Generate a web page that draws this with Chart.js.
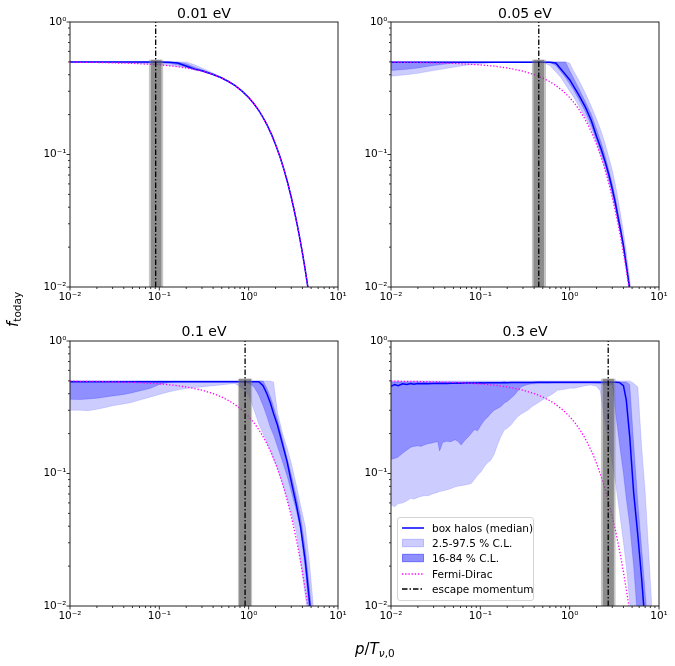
<!DOCTYPE html>
<html>
<head>
<meta charset="utf-8">
<script src="https://cdn.jsdelivr.net/npm/chart.js@4.4.1/dist/chart.umd.min.js"></script>
<style>
html,body{margin:0;padding:0;background:#fff;}
#fig{position:relative;width:675px;height:666px;overflow:hidden;font-family:"DejaVu Sans",sans-serif;color:#000;}
canvas{position:absolute;}
.ttl{position:absolute;width:268px;text-align:center;font-size:14px;line-height:16px;white-space:nowrap;z-index:2;}
#ylab{position:absolute;left:5px;top:327px;transform-origin:0 0;transform:rotate(-90deg);font-size:15px;line-height:17px;white-space:nowrap;}
#xlab{position:absolute;left:355px;top:641px;font-size:15px;line-height:17px;white-space:nowrap;}
.it{font-style:italic;}
sub{font-size:70%;vertical-align:-0.3em;line-height:0;}
#leg{position:absolute;left:397px;top:517px;width:137px;height:84px;border:1px solid #d4d4d4;border-radius:3px;background:rgba(255,255,255,0.8);box-sizing:border-box;z-index:3;}
.row{position:absolute;left:0;height:14px;line-height:14px;font-size:10.5px;white-space:nowrap;}
.row svg{position:absolute;left:4px;top:0;}
.row span{position:absolute;left:34px;top:0;}
</style>
</head>
<body>
<div id="fig">
  <canvas id="c0" width="330" height="297" style="left:20px;top:14px"></canvas>
  <canvas id="c1" width="330" height="297" style="left:341px;top:14px"></canvas>
  <canvas id="c2" width="330" height="297" style="left:20px;top:333px"></canvas>
  <canvas id="c3" width="330" height="297" style="left:341px;top:333px"></canvas>
  <div class="ttl" id="t0" style="left:70px;top:5px"></div>
  <div class="ttl" id="t1" style="left:391px;top:5px"></div>
  <div class="ttl" id="t2" style="left:70px;top:323px"></div>
  <div class="ttl" id="t3" style="left:391px;top:323px"></div>
  <div id="ylab"><span class="it">f</span><sub>today</sub></div>
  <div id="xlab"><span class="it">p</span>/<span class="it">T</span><sub><span class="it">ν</span>,0</sub></div>
  <div id="leg">
    <div class="row" style="top:3px"><svg width="22" height="14"><line x1="0" y1="7" x2="22" y2="7" stroke="#0000ff" stroke-width="1.5"/></svg><span>box halos (median)</span></div>
    <div class="row" style="top:18px"><svg width="22" height="14"><rect x="0.5" y="3.3" width="21" height="7.4" fill="rgba(0,0,255,0.2)" stroke="rgba(0,0,255,0.2)" stroke-width="1"/></svg><span>2.5-97.5 % C.L.</span></div>
    <div class="row" style="top:33px"><svg width="22" height="14"><rect x="0.5" y="3.3" width="21" height="7.4" fill="rgba(0,0,255,0.44)" stroke="rgba(0,0,255,0.44)" stroke-width="1"/></svg><span>16-84 % C.L.</span></div>
    <div class="row" style="top:48.7px"><svg width="22" height="14"><line x1="0" y1="7" x2="22" y2="7" stroke="#ff00ff" stroke-width="1.3" stroke-dasharray="1.3 1.9"/></svg><span>Fermi-Dirac</span></div>
    <div class="row" style="top:64px"><svg width="22" height="14"><line x1="0" y1="7" x2="22" y2="7" stroke="#000" stroke-width="1.3" stroke-dasharray="5.5 2 1.5 2"/></svg><span>escape momentum</span></div>
  </div>
</div>
<script>
// ---------- axes ----------
const xTickVals = [0.01, 0.1, 1, 10];
const xTickLabels = ['10⁻²', '10⁻¹', '10⁰', '10¹'];
const yTickVals = [0.01, 0.1, 1];
const yTickLabels = ['10⁻²', '10⁻¹', '10⁰'];
const panelTitles = ['0.01 eV', '0.05 eV', '0.1 eV', '0.3 eV'];

// ---------- escape momentum (per panel) ----------
const escP    = [0.091, 0.451, 0.912, 2.70];
const esc68Lo = [0.080, 0.392, 0.780, 2.34];
const esc68Hi = [0.106, 0.516, 1.060, 3.13];
const esc95Lo = [0.076, 0.376, 0.755, 2.23];
const esc95Hi = [0.111, 0.545, 1.100, 3.28];
const escTop = 0.52;

// ---------- Fermi-Dirac ----------
const pFD = [0.01,0.02,0.05,0.1,0.15,0.2,0.3,0.4,0.5,0.6,0.7,0.85,1,1.15,1.3,1.45,1.6,1.8,2,2.25,2.5,2.75,3,3.25,3.5,3.75,4,4.25,4.5,4.75,5,5.5];
const fFD = [0.4975,0.495,0.4875,0.475,0.4626,0.4502,0.4256,0.4013,0.3775,0.3543,0.3318,0.2994,0.2689,0.2405,0.2142,0.19,0.168,0.1419,0.1192,0.0953,0.0759,0.0601,0.0474,0.0373,0.0293,0.023,0.018,0.0141,0.011,0.0086,0.0067,0.0041];

// ---------- 0.01 eV ----------
const p1    = [0.01,0.03,0.06,0.1,0.13,0.16,0.2,0.25,0.3,0.4,0.5,0.6,0.7,0.85,1,1.15,1.3,1.45,1.6,1.8,2,2.25,2.5,2.75,3,3.25,3.5,3.75,4,4.25,4.5,4.75,5,5.5];
const med1  = [0.5,0.5,0.5,0.5,0.497,0.49,0.465,0.44,0.428,0.402,0.378,0.354,0.332,0.2994,0.2689,0.2405,0.2142,0.19,0.168,0.1419,0.1192,0.0953,0.0759,0.0601,0.0474,0.0373,0.0293,0.023,0.018,0.0141,0.011,0.0086,0.0067,0.0041];
const lo95_1= [0.498,0.494,0.486,0.476,0.468,0.461,0.451,0.438,0.426,0.401,0.377,0.353,0.331,0.2985,0.268,0.2398,0.2136,0.1895,0.1675,0.1415,0.1189,0.095,0.0757,0.06,0.0473,0.0372,0.0292,0.0229,0.018,0.0141,0.011,0.0086,0.0067,0.0041];
const hi95_1= [0.5,0.5,0.5,0.5,0.5,0.5,0.5,0.475,0.45,0.412,0.383,0.358,0.334,0.301,0.271,0.2422,0.2155,0.191,0.169,0.1426,0.1198,0.0957,0.0762,0.0603,0.0476,0.0375,0.0294,0.0231,0.0181,0.0142,0.0111,0.0087,0.0068,0.0042];
const lo68_1= [0.5,0.499,0.497,0.493,0.487,0.475,0.455,0.439,0.427,0.402,0.378,0.354,0.332,0.2994,0.2689,0.2405,0.2142,0.19,0.168,0.1419,0.1192,0.0953,0.0759,0.0601,0.0474,0.0373,0.0293,0.023,0.018,0.0141,0.011,0.0086,0.0067,0.0041];
const hi68_1= [0.5,0.5,0.5,0.5,0.5,0.5,0.485,0.455,0.436,0.406,0.38,0.355,0.333,0.3,0.2695,0.241,0.2146,0.1903,0.1683,0.1421,0.1194,0.0954,0.076,0.0602,0.0475,0.0374,0.0293,0.023,0.018,0.0141,0.011,0.0086,0.0067,0.0041];

// ---------- 0.05 eV ----------
const p2    = [0.01,0.015,0.02,0.03,0.05,0.07,0.1,0.15,0.2,0.3,0.5,0.6,0.7,0.8,0.9,1.0,1.1,1.25,1.5,1.75,2,2.25,2.5,2.75,3,3.25,3.5,3.75,4,4.25,4.5,4.75,5];
const med2  = [0.497,0.497,0.497,0.497,0.497,0.497,0.497,0.497,0.497,0.497,0.497,0.497,0.49,0.44,0.40,0.367,0.33,0.285,0.228,0.18,0.137,0.11,0.088,0.07,0.055,0.043,0.033,0.026,0.0205,0.0155,0.0118,0.0092,0.0071];
const lo95_2= [0.39,0.40,0.41,0.43,0.455,0.472,0.485,0.494,0.497,0.497,0.495,0.47,0.42,0.38,0.335,0.30,0.273,0.235,0.19,0.155,0.122,0.097,0.077,0.061,0.048,0.038,0.030,0.0236,0.0185,0.0145,0.0112,0.0087,0.0068];
const hi95_2= [0.5,0.5,0.5,0.5,0.5,0.5,0.5,0.5,0.5,0.5,0.5,0.5,0.5,0.5,0.5,0.49,0.43,0.37,0.29,0.23,0.185,0.15,0.12,0.095,0.076,0.059,0.045,0.034,0.026,0.0195,0.0145,0.0108,0.008];
const lo68_2= [0.43,0.44,0.45,0.47,0.49,0.497,0.497,0.497,0.497,0.497,0.497,0.497,0.47,0.42,0.38,0.34,0.31,0.265,0.21,0.165,0.128,0.102,0.082,0.065,0.051,0.04,0.031,0.0245,0.0193,0.015,0.0115,0.0089,0.0069];
const hi68_2= [0.5,0.5,0.5,0.5,0.5,0.5,0.5,0.5,0.5,0.5,0.5,0.5,0.5,0.5,0.5,0.43,0.38,0.32,0.25,0.2,0.155,0.123,0.097,0.076,0.06,0.047,0.036,0.028,0.0215,0.0164,0.0125,0.0096,0.0074];

// ---------- 0.1 eV ----------
const p3    = [0.01,0.013,0.016,0.02,0.025,0.03,0.035,0.04,0.05,0.06,0.07,0.08,0.1,0.13,0.17,0.22,0.3,0.4,0.55,0.7,0.85,1.0,1.15,1.3,1.45,1.6,1.75,1.9,2.1,2.4,2.7,3.0,3.4,3.8,4.3,4.8,5.3,5.8];
const med3  = [0.493,0.493,0.493,0.493,0.493,0.493,0.493,0.493,0.493,0.493,0.493,0.493,0.493,0.493,0.493,0.493,0.493,0.493,0.493,0.493,0.493,0.493,0.493,0.493,0.46,0.40,0.34,0.283,0.232,0.165,0.122,0.087,0.059,0.04,0.022,0.0108,0.0058,0.003];
const lo95_3= [0.30,0.30,0.298,0.305,0.315,0.325,0.33,0.335,0.345,0.358,0.368,0.378,0.395,0.414,0.43,0.442,0.45,0.46,0.47,0.478,0.44,0.39,0.30,0.235,0.2,0.17,0.148,0.128,0.11,0.083,0.064,0.05,0.037,0.022,0.012,0.007,0.004,0.0025];
const hi95_3= [0.5,0.5,0.5,0.5,0.5,0.5,0.5,0.5,0.5,0.5,0.5,0.5,0.5,0.5,0.5,0.5,0.5,0.5,0.5,0.5,0.5,0.5,0.5,0.5,0.5,0.5,0.5,0.49,0.29,0.2,0.155,0.12,0.083,0.058,0.04,0.021,0.01,0.005];
const lo68_3= [0.363,0.362,0.365,0.37,0.378,0.385,0.39,0.395,0.407,0.42,0.43,0.44,0.47,0.488,0.493,0.493,0.493,0.493,0.493,0.493,0.49,0.48,0.45,0.39,0.325,0.27,0.222,0.195,0.16,0.122,0.095,0.073,0.053,0.038,0.019,0.0085,0.0045,0.0025];
const hi68_3= [0.5,0.5,0.5,0.5,0.5,0.5,0.5,0.5,0.5,0.5,0.5,0.5,0.5,0.5,0.5,0.5,0.5,0.5,0.5,0.5,0.5,0.5,0.5,0.5,0.5,0.44,0.38,0.32,0.255,0.18,0.13,0.098,0.068,0.048,0.027,0.0135,0.0068,0.0035];

// ---------- 0.3 eV ----------
const p4 = [0.01,0.011,0.012,0.0135,0.015,0.0167,0.018,0.02,0.0215,0.0236,
            0.026,0.029,0.031,0.0333,0.035,0.038,0.042,0.047,0.052,0.056,
            0.061,0.068,0.074,0.079,0.086,0.093,0.102,0.11,0.12,0.131,
            0.143,0.156,0.17,0.186,0.2,0.22,0.24,0.262,0.285,0.31,
            0.34,0.38,0.44,0.5,0.57,0.65,0.73,0.85,1.0,1.13,
            1.3,1.5,1.73,2.0,2.2,2.4,2.7,3.0,3.3,3.6,
            4.0,4.3,4.7,5.2,5.8,6.4,7.0,7.8,8.5];
const med4 = [0.455,0.47,0.46,0.475,0.47,0.478,0.472,0.477,0.475,0.478,
              0.476,0.478,0.477,0.479,0.478,0.48,0.478,0.48,0.479,0.481,
              0.48,0.482,0.481,0.482,0.483,0.482,0.484,0.483,0.484,0.485,
              0.484,0.485,0.485,0.486,0.485,0.486,0.486,0.487,0.486,0.487,
              0.487,0.487,0.488,0.488,0.488,0.488,0.488,0.488,0.488,0.488,
              0.488,0.488,0.488,0.488,0.488,0.488,0.488,0.488,0.488,0.487,
              0.46,0.36,0.19,0.072,0.034,0.016,0.0072,0.0035,0.002];
const lo95_4 = [0.058,0.056,0.059,0.06,0.062,0.065,0.064,0.066,0.067,0.068,
                0.068,0.07,0.071,0.072,0.073,0.074,0.075,0.077,0.079,0.08,
                0.081,0.082,0.083,0.084,0.09,0.097,0.103,0.112,0.12,0.126,
                0.14,0.165,0.19,0.213,0.22,0.232,0.25,0.268,0.28,0.29,
                0.30,0.32,0.34,0.36,0.38,0.40,0.425,0.43,0.44,0.44,
                0.45,0.46,0.465,0.455,0.42,0.28,0.18,0.12,0.08,0.052,
                0.03,0.02,0.0105,0.005,0.003,0.002,0.002,0.002,0.002];
const hi95_4 = [0.5,0.5,0.5,0.5,0.5,0.5,0.5,0.5,0.5,0.5,
                0.5,0.5,0.5,0.5,0.5,0.5,0.5,0.5,0.5,0.5,
                0.5,0.5,0.5,0.5,0.5,0.5,0.5,0.5,0.5,0.5,
                0.5,0.5,0.5,0.5,0.5,0.5,0.5,0.5,0.5,0.5,
                0.5,0.5,0.5,0.5,0.5,0.5,0.5,0.5,0.5,0.5,
                0.5,0.5,0.5,0.5,0.5,0.5,0.5,0.5,0.5,0.5,
                0.5,0.5,0.5,0.48,0.45,0.158,0.073,0.021,0.0076];
const lo68_4 = [0.128,0.13,0.133,0.142,0.15,0.158,0.16,0.162,0.16,0.164,
                0.168,0.17,0.172,0.174,0.148,0.172,0.175,0.174,0.18,0.175,
                0.164,0.18,0.19,0.2,0.215,0.21,0.232,0.25,0.265,0.284,
                0.3,0.31,0.32,0.34,0.35,0.37,0.39,0.42,0.45,0.46,
                0.47,0.475,0.477,0.478,0.478,0.479,0.479,0.48,0.48,0.48,
                0.48,0.48,0.48,0.478,0.475,0.472,0.47,0.47,0.27,0.17,
                0.1,0.065,0.041,0.02,0.0075,0.004,0.003,0.002,0.002];
const hi68_4 = [0.49,0.49,0.49,0.49,0.49,0.49,0.49,0.49,0.49,0.49,
                0.49,0.49,0.49,0.49,0.49,0.49,0.49,0.49,0.49,0.49,
                0.49,0.49,0.49,0.49,0.49,0.49,0.49,0.49,0.49,0.49,
                0.49,0.49,0.49,0.49,0.49,0.49,0.49,0.49,0.49,0.49,
                0.49,0.49,0.49,0.49,0.49,0.49,0.49,0.49,0.49,0.49,
                0.49,0.49,0.49,0.49,0.49,0.49,0.49,0.49,0.49,0.49,
                0.49,0.49,0.47,0.17,0.06,0.027,0.0125,0.0055,0.003];

const panels = [
  {p:p1, med:med1, lo95:lo95_1, hi95:hi95_1, lo68:lo68_1, hi68:hi68_1},
  {p:p2, med:med2, lo95:lo95_2, hi95:hi95_2, lo68:lo68_2, hi68:hi68_2},
  {p:p3, med:med3, lo95:lo95_3, hi95:hi95_3, lo68:lo68_3, hi68:hi68_3},
  {p:p4, med:med4, lo95:lo95_4, hi95:hi95_4, lo68:lo68_4, hi68:hi68_4}
];

const yMin = 0.01, yMax = 1, xMin = 0.01, xMax = 10;

function pts(xs, ys) { return xs.map((x, i) => ({x: x, y: ys[i]})); }
function labelFor(vals, labels, v) {
  const i = vals.findIndex(t => Math.abs(t - v) / t < 1e-6);
  return i >= 0 ? labels[i] : '';
}

const frameTicks = {
  id: 'frameTicks',
  afterDraw(chart) {
    const ctx = chart.ctx, a = chart.chartArea, xs = chart.scales.x, ys = chart.scales.y;
    ctx.save();
    ctx.strokeStyle = '#000';
    ctx.lineWidth = 0.8;
    ctx.beginPath();
    for (let d = -2; d <= 1; d++) {
      for (let k = 1; k <= 9; k++) {
        const v = k * Math.pow(10, d);
        if (v > xMax * 1.0001) break;
        const px = xs.getPixelForValue(v);
        const len = k === 1 ? 3.5 : 2;
        ctx.moveTo(px, a.bottom); ctx.lineTo(px, a.bottom + len);
      }
    }
    for (let d = -2; d <= 0; d++) {
      for (let k = 1; k <= 9; k++) {
        const v = k * Math.pow(10, d);
        if (v > yMax * 1.0001) break;
        const py = ys.getPixelForValue(v);
        const len = k === 1 ? 3.5 : 2;
        ctx.moveTo(a.left, py); ctx.lineTo(a.left - len, py);
      }
    }
    ctx.stroke();
    ctx.strokeStyle = '#222';
    ctx.lineWidth = 1;
    ctx.strokeRect(a.left, a.top, a.right - a.left, a.bottom - a.top);
    ctx.restore();
  }
};

Chart.defaults.font.family = "'DejaVu Sans', sans-serif";

function makeChart(i) {
  const P = panels[i];
  document.getElementById('t' + i).textContent = panelTitles[i];
  const datasets = [
    {label: 'escape momentum', data: [{x: escP[i], y: yMin}, {x: escP[i], y: yMax}],
     borderColor: '#000', borderWidth: 1.3, borderDash: [5.5, 2, 1.5, 2], fill: false},
    {label: 'escape 16-84', data: [{x: esc68Lo[i], y: escTop}, {x: esc68Hi[i], y: escTop}],
     borderWidth: 0, borderColor: 'rgba(0,0,0,0)', backgroundColor: 'rgba(70,70,70,0.45)', fill: {value: yMin}},
    {label: 'escape 2.5-97.5', data: [{x: esc95Lo[i], y: escTop}, {x: esc95Hi[i], y: escTop}],
     borderWidth: 0, borderColor: 'rgba(0,0,0,0)', backgroundColor: 'rgba(128,128,128,0.45)', fill: {value: yMin}},
    {label: 'Fermi-Dirac', data: pts(pFD, fFD), borderColor: '#ff00ff', borderWidth: 1.3,
     borderDash: [1.3, 1.9], fill: false},
    {label: 'box halos (median)', data: pts(P.p, P.med), borderColor: '#0000ff', borderWidth: 1.5, fill: false},
    {label: '16-84 % C.L.', data: pts(P.p, P.hi68), borderColor: 'rgba(0,0,255,0.3)', borderWidth: 0.6,
     backgroundColor: 'rgba(0,0,255,0.3)', fill: '+1'},
    {label: '16-84 low', data: pts(P.p, P.lo68), borderColor: 'rgba(0,0,255,0.3)', borderWidth: 0.6, fill: false},
    {label: '2.5-97.5 % C.L.', data: pts(P.p, P.hi95), borderColor: 'rgba(0,0,255,0.2)', borderWidth: 0.6,
     backgroundColor: 'rgba(0,0,255,0.2)', fill: '+1'},
    {label: '2.5-97.5 low', data: pts(P.p, P.lo95), borderColor: 'rgba(0,0,255,0.2)', borderWidth: 0.6, fill: false}
  ];
  datasets.forEach(d => { d.pointRadius = 0; d.tension = 0; d.clip = 0; });
  new Chart(document.getElementById('c' + i), {
    type: 'line',
    data: {datasets: datasets},
    options: {
      responsive: false, animation: false, events: [],
      layout: {padding: {left: 0, top: 8, right: 12, bottom: 0}},
      plugins: {legend: {display: false}, tooltip: {enabled: false}},
      scales: {
        x: {
          type: 'logarithmic', min: xMin, max: xMax,
          grid: {display: false, drawTicks: false}, border: {display: false},
          afterBuildTicks: s => { s.ticks = xTickVals.map(v => ({value: v})); },
          ticks: {autoSkip: false, maxRotation: 0, minRotation: 0, padding: 4, color: '#000',
                  font: {size: 10.5}, callback: v => labelFor(xTickVals, xTickLabels, v)},
          afterFit: s => { s.height = 24; s.paddingLeft = 0; s.paddingRight = 0; }
        },
        y: {
          type: 'logarithmic', min: yMin, max: yMax,
          grid: {display: false, drawTicks: false}, border: {display: false},
          afterBuildTicks: s => { s.ticks = yTickVals.map(v => ({value: v})); },
          ticks: {autoSkip: false, padding: 3.5, color: '#000',
                  font: {size: 10.5}, callback: v => labelFor(yTickVals, yTickLabels, v)},
          afterFit: s => { s.width = 50; s.paddingTop = 0; s.paddingBottom = 0; }
        }
      }
    },
    plugins: [frameTicks]
  });
}
for (let i = 0; i < 4; i++) makeChart(i);
</script>
</body>
</html>
